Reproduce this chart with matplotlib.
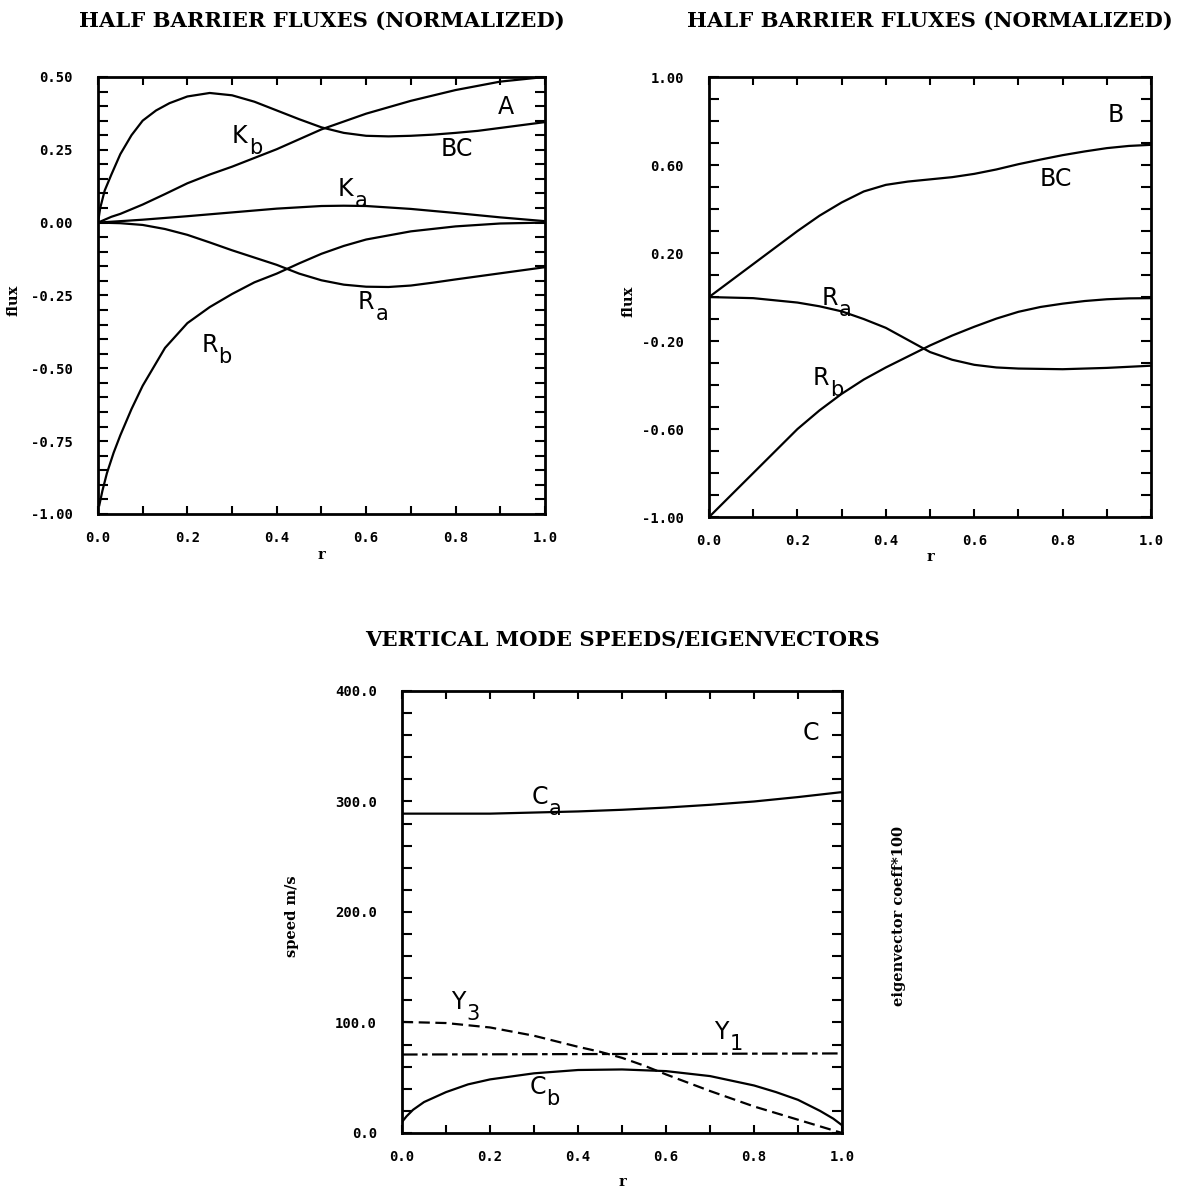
import matplotlib
matplotlib.use("Agg")
import matplotlib.pyplot as plt
from matplotlib.ticker import MultipleLocator, FormatStrFormatter

# ---- panel A : half barrier fluxes
a_kb_x = [0, 0.005, 0.015, 0.03, 0.05, 0.075, 0.1, 0.13, 0.16, 0.2, 0.25, 0.3, 0.35,
          0.4, 0.45, 0.5, 0.55, 0.6, 0.65, 0.7, 0.75, 0.8, 0.85, 0.9, 0.95, 1.0]
a_kb_y = [0, 0.05, 0.11, 0.165, 0.235, 0.30, 0.35, 0.385, 0.41, 0.433, 0.445, 0.437, 0.415,
          0.385, 0.355, 0.327, 0.308, 0.298, 0.296, 0.298, 0.302, 0.308, 0.315, 0.325, 0.335, 0.345]

a_bc_x = [0, 0.03, 0.05, 0.1, 0.15, 0.2, 0.25, 0.3, 0.4, 0.5, 0.6, 0.7, 0.8, 0.9, 1.0]
a_bc_y = [0, 0.02, 0.03, 0.062, 0.098, 0.135, 0.165, 0.192, 0.252, 0.32, 0.374, 0.418, 0.455, 0.484, 0.50]

a_ka_x = [0, 0.1, 0.2, 0.3, 0.4, 0.5, 0.55, 0.6, 0.7, 0.8, 0.9, 1.0]
a_ka_y = [0, 0.01, 0.022, 0.035, 0.048, 0.057, 0.058, 0.057, 0.047, 0.033, 0.018, 0.005]

a_ra_x = [0, 0.05, 0.1, 0.15, 0.2, 0.25, 0.3, 0.35, 0.4, 0.45, 0.5, 0.55, 0.6, 0.65,
          0.7, 0.75, 0.8, 0.9, 1.0]
a_ra_y = [0, -0.002, -0.008, -0.022, -0.042, -0.068, -0.095, -0.12, -0.145, -0.175, -0.198,
          -0.213, -0.22, -0.221, -0.216, -0.206, -0.195, -0.174, -0.153]

a_rb_x = [0.003, 0.01, 0.02, 0.035, 0.05, 0.075, 0.1, 0.15, 0.2, 0.25, 0.3, 0.35, 0.4,
          0.45, 0.5, 0.55, 0.6, 0.7, 0.8, 0.9, 1.0]
a_rb_y = [-0.97, -0.92, -0.86, -0.79, -0.73, -0.64, -0.56, -0.43, -0.345, -0.29, -0.245,
          -0.205, -0.175, -0.14, -0.107, -0.08, -0.058, -0.03, -0.013, -0.003, 0.0]

# ---- panel B
b_x = [0, 0.05, 0.1, 0.15, 0.2, 0.25, 0.3, 0.35, 0.4, 0.45, 0.5, 0.55, 0.6, 0.65,
       0.7, 0.75, 0.8, 0.85, 0.9, 0.95, 1.0]
b_bc_y = [0.0, 0.075, 0.15, 0.225, 0.30, 0.37, 0.43, 0.48, 0.51, 0.525, 0.535, 0.545, 0.56,
          0.58, 0.604, 0.625, 0.645, 0.662, 0.677, 0.687, 0.692]
b_rb_y = [-1.0, -0.90, -0.80, -0.70, -0.60, -0.515, -0.44, -0.375, -0.32, -0.27, -0.22,
          -0.175, -0.135, -0.098, -0.067, -0.045, -0.03, -0.018, -0.01, -0.006, -0.005]

b_ra_x = [0, 0.1, 0.2, 0.25, 0.3, 0.35, 0.4, 0.45, 0.5, 0.55, 0.6, 0.65, 0.7, 0.8, 0.9, 1.0]
b_ra_y = [0, -0.005, -0.025, -0.042, -0.065, -0.1, -0.14, -0.195, -0.25, -0.285, -0.308,
          -0.32, -0.325, -0.328, -0.322, -0.312]

# ---- panel C : vertical mode speeds / eigenvectors
c_ca_x = [0, 0.1, 0.2, 0.3, 0.4, 0.5, 0.6, 0.7, 0.8, 0.9, 1.0]
c_ca_y = [289, 289, 289, 290, 291, 292.5, 294.5, 297, 300, 304, 308.5]

c_cb_x = [0, 0.01, 0.025, 0.05, 0.1, 0.15, 0.2, 0.3, 0.4, 0.5, 0.6, 0.7, 0.8, 0.85,
          0.9, 0.95, 0.98, 1.0]
c_cb_y = [10, 15, 21, 28, 37, 44, 48.5, 54, 57, 57.5, 56, 51.5, 43, 37, 30, 20, 13, 7]

c_y3_x = [0, 0.1, 0.2, 0.3, 0.4, 0.45, 0.5, 0.55, 0.6, 0.7, 0.8, 0.9, 1.0]
c_y3_y = [100.5, 99.5, 95.5, 88, 78, 73.5, 68, 61, 53, 38, 24, 12, 0]

c_y1_x = [0, 1.0]
c_y1_y = [71, 72]

x_ticks = [0.0, 0.2, 0.4, 0.6, 0.8, 1.0]
a_yticks = [-1.0, -0.75, -0.5, -0.25, 0.0, 0.25, 0.5]
b_yticks = [-1.0, -0.6, -0.2, 0.2, 0.6, 1.0]
c_yticks = [0, 100, 200, 300, 400]

TITLE_FONT = dict(family="DejaVu Serif", fontweight="bold", fontsize=15.2)
LABEL_FONT = dict(family="DejaVu Serif", fontweight="bold", fontsize=10.5)
TICK_FONT = "DejaVu Sans Mono"
SUB_DX = {"K": 12, "R": 12.5, "C": 12.5, "Y": 11}


def curve_label(ax, x, y, main, sub=None):
    ax.text(x, y, main, fontsize=17, family="DejaVu Sans")
    if sub:
        ax.annotate(sub, (x, y), xytext=(SUB_DX[main], -8), textcoords="offset points",
                    fontsize=15, family="DejaVu Sans")


def style_axes(ax, ymin, ymax, yticks, yminor, yfmt):
    ax.set_xlim(0, 1)
    ax.set_ylim(ymin, ymax)
    ax.set_xticks(x_ticks)
    ax.set_yticks(yticks)
    ax.xaxis.set_minor_locator(MultipleLocator(0.1))
    ax.yaxis.set_minor_locator(MultipleLocator(yminor))
    ax.xaxis.set_major_formatter(FormatStrFormatter("%.1f"))
    ax.yaxis.set_major_formatter(FormatStrFormatter(yfmt))
    for s in ax.spines.values():
        s.set_linewidth(2)
    ax.tick_params(which="both", direction="in", top=True, right=True, width=1.5)
    ax.tick_params(axis="y", which="both", length=7, pad=18)
    ax.tick_params(axis="x", which="both", length=6, pad=12)
    for lab in ax.get_xticklabels() + ax.get_yticklabels():
        lab.set_family(TICK_FONT)
        lab.set_fontweight("bold")
        lab.set_fontsize(10)


def put_labels(ax, ylabel, ylab_x, xlab_y):
    ax.set_ylabel(ylabel, **LABEL_FONT)
    ax.yaxis.set_label_coords(ylab_x, 0.49)
    ax.yaxis.label.set_va("center")
    ax.set_xlabel("r", **LABEL_FONT)
    ax.xaxis.set_label_coords(0.5, xlab_y)
    ax.xaxis.label.set_va("center")


fig = plt.figure(figsize=(11.79, 11.93), dpi=100)
axA = fig.add_axes([0.0831, 0.5692, 0.3791, 0.3663])
axB = fig.add_axes([0.6014, 0.5666, 0.3749, 0.3688])
axC = fig.add_axes([0.3410, 0.0503, 0.3732, 0.3705])

lw = 1.6

# panel A
for xs, ys in [(a_kb_x, a_kb_y), (a_bc_x, a_bc_y), (a_ka_x, a_ka_y),
               (a_ra_x, a_ra_y), (a_rb_x, a_rb_y)]:
    axA.plot(xs, ys, color="black", lw=lw)
style_axes(axA, -1.0, 0.5, a_yticks, 0.05, "%.2f")
curve_label(axA, 0.30, 0.273, "K", "b")
curve_label(axA, 0.766, 0.227, "BC")
curve_label(axA, 0.894, 0.374, "A")
curve_label(axA, 0.537, 0.092, "K", "a")
curve_label(axA, 0.582, -0.296, "R", "a")
curve_label(axA, 0.231, -0.443, "R", "b")

# panel B
axB.plot(b_x, b_bc_y, color="black", lw=lw)
axB.plot(b_x, b_rb_y, color="black", lw=lw)
axB.plot(b_ra_x, b_ra_y, color="black", lw=lw)
style_axes(axB, -1.0, 1.0, b_yticks, 0.1, "%.2f")
curve_label(axB, 0.901, 0.796, "B")
curve_label(axB, 0.749, 0.507, "BC")
curve_label(axB, 0.254, -0.034, "R", "a")
curve_label(axB, 0.235, -0.40, "R", "b")

# panel C
axC.plot(c_ca_x, c_ca_y, color="black", lw=lw)
axC.plot(c_cb_x, c_cb_y, color="black", lw=lw)
axC.plot(c_y3_x, c_y3_y, color="black", lw=lw, dashes=(5, 2.5))
axC.plot(c_y1_x, c_y1_y, color="black", lw=lw, dashes=(7, 2, 2.5, 2))
style_axes(axC, 0, 400, c_yticks, 20, "%.1f")
curve_label(axC, 0.91, 356, "C")
curve_label(axC, 0.295, 298, "C", "a")
curve_label(axC, 0.289, 35, "C", "b")
curve_label(axC, 0.112, 112, "Y", "3")
curve_label(axC, 0.71, 85, "Y", "1")

# titles (figure coordinates)
H = 1193.0
for ax, title, ty in [(axA, "HALF BARRIER FLUXES (NORMALIZED)", 21),
                      (axB, "HALF BARRIER FLUXES (NORMALIZED)", 21),
                      (axC, "VERTICAL MODE SPEEDS/EIGENVECTORS", 640)]:
    bb = ax.get_position()
    fig.text((bb.x0 + bb.x1) / 2, 1 - ty / H, title, ha="center", va="center", **TITLE_FONT)

put_labels(axA, "flux", -0.19, -0.095)
put_labels(axB, "flux", -0.183, -0.09)
put_labels(axC, "speed m/s", -0.25, -0.11)
axC.text(1.13, 0.49, "eigenvector coeff*100", transform=axC.transAxes, rotation=90,
         ha="center", va="center", **LABEL_FONT)

fig.savefig("out.png", dpi=100)
